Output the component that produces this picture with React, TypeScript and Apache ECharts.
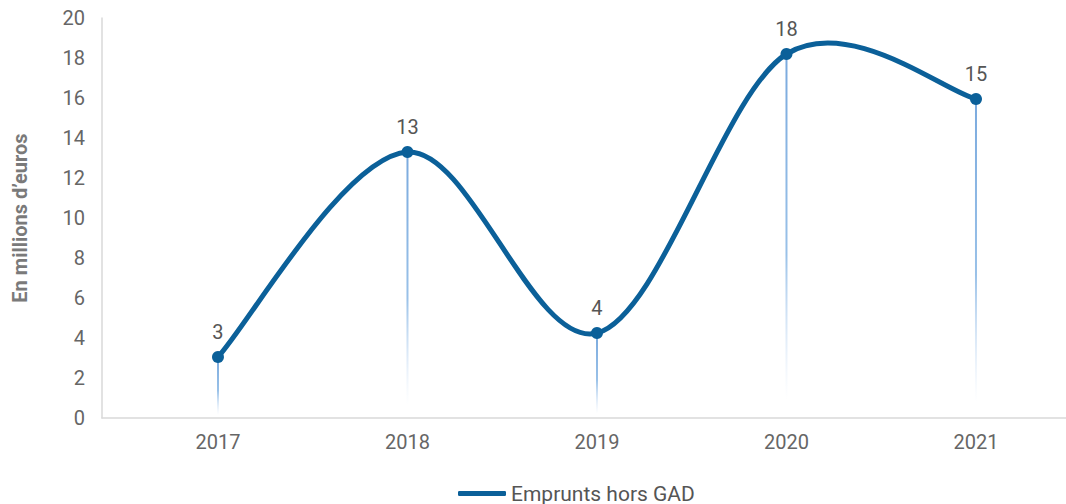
import React, { useEffect, useRef } from "react";
import * as echarts from "echarts";

const years = [2017, 2018, 2019, 2020, 2021];
const values = [3.05, 13.3, 4.25, 18.2, 15.95];
const pointLabels = ["3", "13", "4", "18", "15"];
const yTicks = [0, 2, 4, 6, 8, 10, 12, 14, 16, 18, 20];
const seriesName = "Emprunts hors GAD";
const yName = "En millions d’euros";

const LINE_COLOR = "#0b6099";

export default function App() {
  const ref = useRef<HTMLDivElement>(null);
  useEffect(() => {
    if (!ref.current) return;
    const chart = echarts.init(ref.current, undefined, { renderer: "svg" });
    const pts = years.map((y, i) => [y, values[i]]);
    chart.setOption({
      animation: false,
      textStyle: { fontFamily: "Roboto" },
      grid: { left: 102, right: 0, top: 18, bottom: 86, containLabel: false },
      legend: {
        data: [seriesName],
        left: 453,
        top: 478,
        icon: "roundRect",
        itemWidth: 48,
        itemHeight: 5,
        itemGap: 10,
        textStyle: { fontSize: 21, color: "#555555", fontFamily: "Roboto" },
      },
      xAxis: {
        type: "value",
        min: 2016.388,
        max: 2021.475,
        splitLine: { show: false },
        axisTick: { show: false },
        axisLine: { show: true, lineStyle: { color: "#d9d9d9", width: 1.5 } },
        axisLabel: {
          customValues: years,
          formatter: (v: number) => String(v),
          fontSize: 20,
          color: "#666666",
          margin: 14,
        },
      },
      yAxis: {
        type: "value",
        min: 0,
        max: 20,
        interval: 2,
        name: yName,
        nameLocation: "middle",
        nameGap: 72,
        nameTextStyle: { fontSize: 20, fontWeight: "bold", color: "#7a7a7a" },
        splitLine: { show: false },
        axisTick: { show: false },
        axisLine: { show: true, lineStyle: { color: "#d9d9d9", width: 1.5 } },
        axisLabel: {
          customValues: yTicks,
          fontSize: 20,
          color: "#666666",
          margin: 17,
        },
      },
      series: [
        {
          type: "bar",
          data: pts,
          barWidth: 2,
          silent: true,
          z: 1,
          itemStyle: {
            color: new echarts.graphic.LinearGradient(0, 0, 0, 1, [
              { offset: 0, color: "rgba(115,165,220,0.95)" },
              { offset: 0.55, color: "rgba(135,182,228,0.85)" },
              { offset: 0.95, color: "rgba(200,220,245,0)" },
              { offset: 1, color: "rgba(255,255,255,0)" },
            ]),
          },
        },
        {
          name: seriesName,
          type: "custom",
          data: pts,
          z: 2,
          silent: true,
          itemStyle: { color: LINE_COLOR },
          renderItem: (params: any, api: any) => {
            if (params.dataIndex !== 0) return { type: "group", children: [] };
            const c = pts.map((p) => api.coord(p));
            const n = c.length;
            const children: any[] = [];
            for (let i = 0; i < n - 1; i++) {
              const p0 = c[Math.max(i - 1, 0)];
              const p1 = c[i];
              const p2 = c[i + 1];
              const p3 = c[Math.min(i + 2, n - 1)];
              children.push({
                type: "bezierCurve",
                shape: {
                  x1: p1[0],
                  y1: p1[1],
                  cpx1: p1[0] + (p2[0] - p0[0]) / 6,
                  cpy1: p1[1] + (p2[1] - p0[1]) / 6,
                  cpx2: p2[0] - (p3[0] - p1[0]) / 6,
                  cpy2: p2[1] - (p3[1] - p1[1]) / 6,
                  x2: p2[0],
                  y2: p2[1],
                },
                style: { stroke: LINE_COLOR, lineWidth: 5, fill: null, lineCap: "round" },
              });
            }
            return { type: "group", children };
          },
        },
        {
          type: "line",
          data: pts,
          z: 3,
          symbol: "circle",
          symbolSize: 12,
          lineStyle: { width: 0, opacity: 0 },
          itemStyle: { color: LINE_COLOR },
          label: {
            show: true,
            position: "top",
            distance: 9,
            fontSize: 20,
            color: "#555555",
            formatter: (p: any) => pointLabels[p.dataIndex],
          },
        },
      ],
    });
    return () => chart.dispose();
  }, []);
  return <div ref={ref} style={{ width: 1066, height: 504, position: "absolute", left: 0, top: 0 }} />;
}
